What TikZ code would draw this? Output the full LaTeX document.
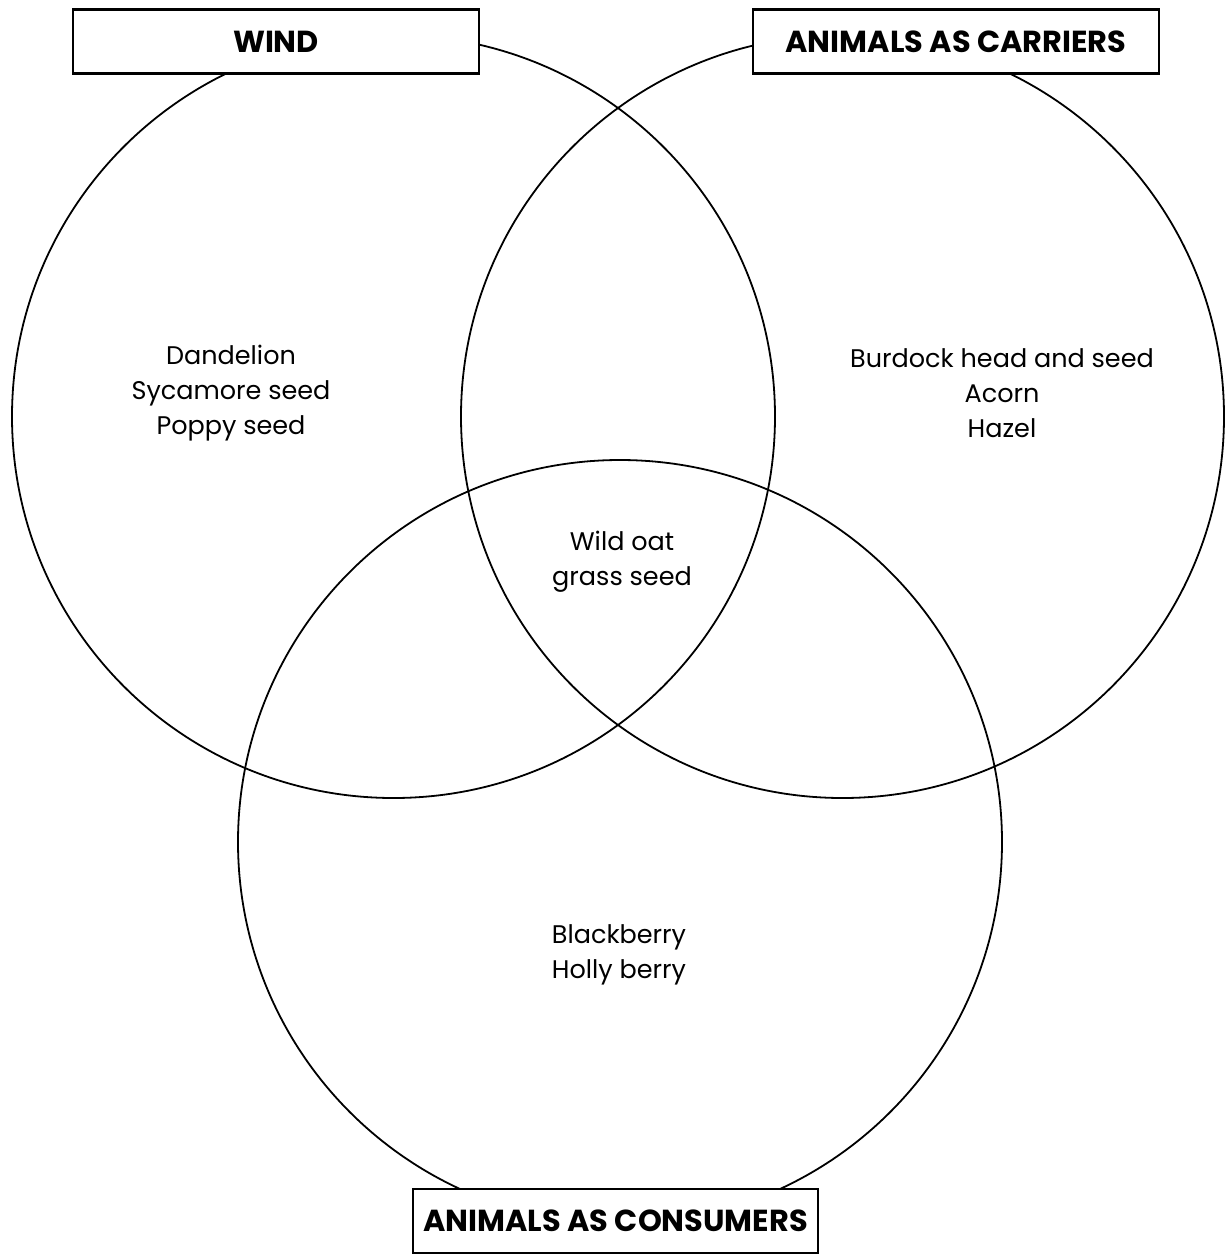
\documentclass[tikz,border=0pt]{standalone}
\usepackage{fontspec}
\setmainfont{Poppins}
\begin{document}
\begin{tikzpicture}[x=1pt,y=-1pt,
  ring/.style={draw=black,line width=1.8pt},
  labelbox/.style={draw=black,fill=white,line width=2.6pt,minimum height=64pt,font=\fontsize{30.4}{34}\selectfont\bfseries,inner sep=0pt},
  item/.style={align=center,font=\fontsize{25.5}{35}\selectfont,inner sep=0pt}]
\useasboundingbox (0,0) rectangle (1228,1254);
\node[ring,circle,minimum size=763pt,inner sep=0pt] (cw) at (393.5,416.5) {};
\node[ring,circle,minimum size=763pt,inner sep=0pt] (cc) at (842.5,416.5) {};
\node[ring,circle,minimum size=764pt,inner sep=0pt] (cn) at (620,842) {};
\node[labelbox,minimum width=406pt] (lw) at (276,41.5) {WIND};
\node[labelbox,minimum width=406pt] (lc) at (956,41.5) {ANIMALS AS CARRIERS};
\node[labelbox,minimum width=405pt] (ln) at (615.5,1221) {ANIMALS AS CONSUMERS};
\node[item] (tw) at (231,393) {Dandelion\\Sycamore seed\\Poppy seed};
\node[item] (tc) at (1002,393) {Burdock head and seed\\Acorn\\Hazel};
\node[item] (tm) at (622,562) {Wild oat\\grass seed};
\node[item] (tn) at (619,955) {Blackberry\\Holly berry};
\end{tikzpicture}
\end{document}
